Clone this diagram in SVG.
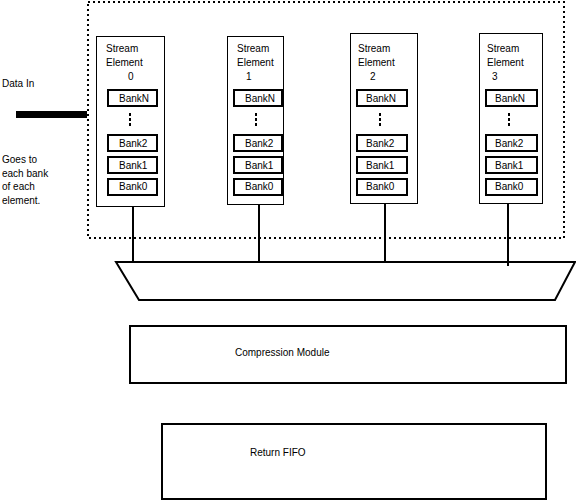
<svg xmlns="http://www.w3.org/2000/svg" width="576" height="501" viewBox="0 0 576 501">
<style>
text{font-family:"Liberation Sans",Arial,sans-serif;font-size:10px;fill:#000}
.el{fill:#fff;stroke:#000;stroke-width:1}
.bank{fill:#fff;stroke:#000;stroke-width:2}
.box{fill:#fff;stroke:#000;stroke-width:2}
.wire{stroke:#000;stroke-width:2;fill:none}
</style>
<defs>
<g id="dots"><rect x="-1" y="0" width="2" height="3"/><rect x="-1" y="5" width="2" height="3"/><rect x="-1" y="10" width="2" height="3"/></g>
</defs>
<rect x="88" y="2" width="476" height="236" fill="none" stroke="#000" stroke-width="2" stroke-dasharray="2,3"/>
<g id="data-in">
<rect x="16" y="111" width="71" height="7" fill="#000"/>
<text x="2" y="87">Data In</text>
<text x="2" y="163">Goes to</text>
<text x="2" y="177">each bank</text>
<text x="2" y="190">of each</text>
<text x="2" y="204">element.</text>
</g>
<g id="connectors">
<line class="wire" x1="133" y1="206" x2="133" y2="262"/>
<line class="wire" x1="259" y1="204" x2="259" y2="261"/>
<line class="wire" x1="385" y1="203" x2="385" y2="262"/>
<line class="wire" x1="508" y1="203" x2="508" y2="266"/>
</g>
<g id="element0">
<rect class="el" x="96.5" y="36.5" width="68" height="170"/>
<text x="106" y="52">Stream</text><text x="106" y="66">Element</text><text x="128" y="80">0</text>
<rect class="bank" x="108" y="90" width="49" height="16"/><text x="119" y="102">BankN</text>
<use href="#dots" x="130" y="113"/>
<rect class="bank" x="108" y="135" width="49" height="16"/><text x="119" y="147">Bank2</text>
<rect class="bank" x="108" y="157" width="49" height="16"/><text x="119" y="169">Bank1</text>
<rect class="bank" x="108" y="179" width="49" height="16"/><text x="119" y="190">Bank0</text>
</g>
<g id="element1">
<rect class="el" x="227.5" y="36.5" width="56" height="168"/>
<text x="237" y="52">Stream</text><text x="237" y="66">Element</text><text x="246" y="80">1</text>
<rect class="bank" x="234" y="90" width="48" height="16"/><text x="245" y="102">BankN</text>
<use href="#dots" x="256" y="113"/>
<rect class="bank" x="234" y="135" width="48" height="16"/><text x="245" y="147">Bank2</text>
<rect class="bank" x="234" y="157" width="48" height="16"/><text x="245" y="169">Bank1</text>
<rect class="bank" x="234" y="179" width="48" height="16"/><text x="245" y="190">Bank0</text>
</g>
<g id="element2">
<rect class="el" x="350.5" y="33.5" width="67" height="170"/>
<text x="358" y="52">Stream</text><text x="358" y="66">Element</text><text x="370" y="80">2</text>
<rect class="bank" x="357" y="90" width="50" height="16"/><text x="366" y="102">BankN</text>
<use href="#dots" x="380" y="113"/>
<rect class="bank" x="357" y="135" width="50" height="16"/><text x="366" y="147">Bank2</text>
<rect class="bank" x="357" y="157" width="50" height="16"/><text x="366" y="169">Bank1</text>
<rect class="bank" x="357" y="179" width="50" height="16"/><text x="366" y="190">Bank0</text>
</g>
<g id="element3">
<rect class="el" x="479.5" y="33.5" width="63" height="170"/>
<text x="487" y="52">Stream</text><text x="487" y="66">Element</text><text x="492" y="80">3</text>
<rect class="bank" x="486" y="90" width="51" height="16"/><text x="495" y="102">BankN</text>
<use href="#dots" x="509" y="113"/>
<rect class="bank" x="486" y="135" width="51" height="16"/><text x="495" y="147">Bank2</text>
<rect class="bank" x="486" y="157" width="51" height="16"/><text x="495" y="169">Bank1</text>
<rect class="bank" x="486" y="179" width="51" height="16"/><text x="495" y="190">Bank0</text>
</g>
<g id="mux">
<polygon points="116,262 575,262 555,300 139,300" fill="none" stroke="#000" stroke-width="2"/>
</g>
<g id="compression">
<rect class="box" x="130" y="326" width="436" height="57"/>
<text x="235" y="356">Compression Module</text>
</g>
<g id="fifo">
<rect class="box" x="162" y="424" width="384" height="75"/>
<text x="250" y="456">Return FIFO</text>
</g>
</svg>
